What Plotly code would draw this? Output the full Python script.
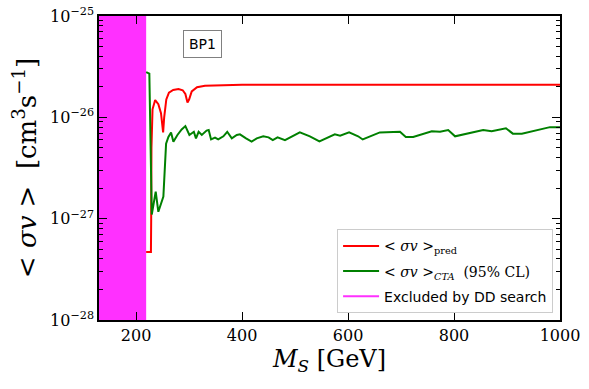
import plotly.graph_objects as go
import numpy as np

# ---- data ----
red_mass = [219, 228, 228.5, 229, 231, 236, 242, 247, 251, 253, 257, 262, 270, 280, 288,
            293, 297, 300, 305, 315, 330, 360, 400, 500, 600, 700, 800, 900, 1000]
red_sv = [4.7e-28, 4.7e-28, 1.0e-27, 5.0e-27, 1.2e-26, 1.48e-26, 1.35e-26, 1.1e-26, 7.1e-27,
          1.0e-26, 1.5e-26, 1.75e-26, 1.86e-26, 1.9e-26, 1.85e-26, 1.7e-26, 1.4e-26, 1.5e-26,
          1.8e-26, 1.98e-26, 2.05e-26, 2.08e-26, 2.1e-26, 2.1e-26, 2.1e-26, 2.1e-26, 2.1e-26,
          2.1e-26, 2.1e-26]

green_mass = [219, 225, 229.6, 237, 242, 246.6, 251.5, 256.6, 261, 266, 270.4, 278, 286, 293,
              300.6, 309, 313, 318, 324, 333, 337, 341.5, 349, 355, 364.7, 372, 380.6, 390, 396,
              407.5, 418, 427.7, 440, 450, 458, 467, 481, 509, 528, 546, 575, 585, 602, 619,
              627.7, 660, 685.5, 698, 709, 723, 758, 773.6, 789, 802, 855, 871, 898, 911, 928,
              981, 1000]
green_sv = [2.8e-26, 2.7e-26, 1.1e-27, 1.85e-27, 1.17e-27, 1.41e-27, 1.65e-27, 5.5e-27, 6.4e-27,
            7.1e-27, 5.75e-27, 6.7e-27, 7.6e-27, 8.2e-27, 6.7e-27, 7.2e-27, 6.2e-27, 7.2e-27,
            6.7e-27, 7.4e-27, 7.5e-27, 6.05e-27, 6.3e-27, 6.05e-27, 6.5e-27, 7.2e-27, 6.2e-27,
            6.7e-27, 6.8e-27, 6.2e-27, 5.75e-27, 6.2e-27, 6.5e-27, 6.35e-27, 5.95e-27, 6.35e-27,
            5.95e-27, 7.1e-27, 6.5e-27, 5.8e-27, 6.8e-27, 6.6e-27, 7.1e-27, 6.5e-27, 6.05e-27,
            7.1e-27, 7.2e-27, 7.2e-27, 6.4e-27, 6.4e-27, 7.3e-27, 7.2e-27, 7.5e-27, 6.5e-27,
            7.5e-27, 7.3e-27, 7.8e-27, 6.9e-27, 6.9e-27, 8.0e-27, 8.0e-27]

dd_excluded = [130, 219]
x_range = [130, 1000]
y_decades = [-28, -27, -26, -25]
x_ticks = [200, 400, 600, 800, 1000]

SERIF = "DejaVu Serif"
minor_vals = [m * 10.0 ** d for d in y_decades[:-1] for m in range(2, 10)]

fig = go.Figure()
fig.add_shape(type="rect", xref="x", yref="paper", x0=dd_excluded[0], x1=dd_excluded[1],
              y0=0, y1=1, fillcolor="#ff30ff", line_width=0, layer="below")
fig.add_trace(go.Scatter(x=red_mass, y=red_sv, mode="lines", line=dict(color="red", width=2),
                         legendgroup="a", name="< <i>σv</i> ><sub>pred</sub>"))
fig.add_trace(go.Scatter(x=green_mass, y=green_sv, mode="lines", line=dict(color="green", width=2),
                         legendgroup="b", name="< <i>σv</i> ><sub><i>CTA</i></sub>  (95% CL)"))
fig.add_trace(go.Scatter(x=[None], y=[None], mode="lines", line=dict(color="#ff30ff", width=2),
                         legendgroup="c",
                         name="<span style='font-family:DejaVu Sans'>Excluded by DD search</span>"))

fig.add_annotation(x=0.182, y=0.953, xref="paper", yref="paper", text="BP1", showarrow=False,
                   xanchor="left", yanchor="top", font=dict(family="DejaVu Sans", size=14, color="black"),
                   bordercolor="gray", borderwidth=1, borderpad=5, bgcolor="white")

fig.update_layout(
    width=589, height=389,
    margin=dict(l=99, r=29, t=16, b=69),
    paper_bgcolor="white", plot_bgcolor="white",
    font=dict(family=SERIF, size=16, color="black"),
    showlegend=True,
    legend=dict(x=0.985, y=0.022, xanchor="right", yanchor="bottom", bgcolor="white",
                bordercolor="#cccccc", borderwidth=1, font=dict(family=SERIF, size=14),
                tracegroupgap=4, itemwidth=36),
    xaxis=dict(range=x_range, tickvals=x_ticks, ticktext=[str(v) for v in x_ticks],
               automargin=False, ticklabeloverflow="allow",
               ticks="inside", ticklen=8, tickcolor="black", showline=True, linecolor="black",
               linewidth=1.5, mirror="ticks", showgrid=False, zeroline=False,
               tickfont=dict(family=SERIF, size=16),
               title=dict(text="<i>M<sub>S</sub></i> [GeV]", font=dict(family=SERIF, size=24),
                          standoff=4)),
    yaxis=dict(type="log", range=[y_decades[0], y_decades[-1]],
               automargin=False, ticklabeloverflow="allow",
               tickvals=[10.0 ** d for d in y_decades],
               ticktext=["10<sup>−%d</sup>" % (-d) for d in y_decades],
               ticks="inside", ticklen=8, tickcolor="black", showline=True, linecolor="black",
               linewidth=1.5, mirror="ticks", showgrid=False, zeroline=False,
               tickfont=dict(family=SERIF, size=16),
               minor=dict(tickvals=minor_vals, ticks="inside", ticklen=4, tickcolor="black",
                          showgrid=False),
               title=dict(text="< <i>σv</i> >  [cm<sup>3</sup>s<sup>−1</sup>]",
                          font=dict(family=SERIF, size=26), standoff=6)),
)

fig.write_html("out.html", config={"displayModeBar": False},
               post_script="document.body.style.margin='0';document.body.style.overflow='hidden';")
